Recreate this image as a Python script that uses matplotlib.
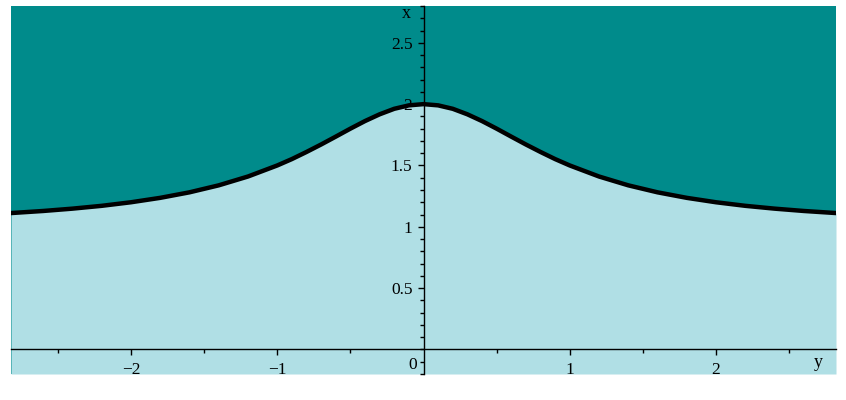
import matplotlib
matplotlib.use("Agg")
import matplotlib.pyplot as plt
from matplotlib.ticker import MultipleLocator, FixedLocator

# Data (curve x as function of y)
y_vals = [-2.82, -2.6, -2.4, -2.2, -2.0, -1.8, -1.6, -1.4, -1.2, -1.0, -0.9, -0.8, -0.7, -0.6, -0.5,
          -0.4, -0.3, -0.2, -0.1, 0.0, 0.1, 0.2, 0.3, 0.4, 0.5, 0.6, 0.7, 0.8, 0.9, 1.0,
          1.2, 1.4, 1.6, 1.8, 2.0, 2.2, 2.4, 2.6, 2.82]
x_vals = [1.112, 1.129, 1.148, 1.171, 1.2, 1.236, 1.281, 1.338, 1.41, 1.5, 1.552, 1.61, 1.671, 1.735, 1.8,
          1.862, 1.917, 1.962, 1.99, 2.0, 1.99, 1.962, 1.917, 1.862, 1.8, 1.735, 1.671, 1.61, 1.552, 1.5,
          1.41, 1.338, 1.281, 1.236, 1.2, 1.171, 1.148, 1.129, 1.112]
x_ticks = [-2, -1, 1, 2]
x_tick_labels = ["\u22122", "\u22121", "1", "2"]
v_ticks = [0.5, 1, 1.5, 2, 2.5]
v_tick_labels = ["0.5", "1", "1.5", "2", "2.5"]

dark = "#008b8b"
light = "#b0dfe5"

plt.rcParams['font.family'] = ['Liberation Serif', 'DejaVu Serif']

fig = plt.figure(figsize=(8.46, 4.0), dpi=100)
ax = fig.add_axes([11/846, 26/400, 825/846, 368/400])
ax.set_xlim(-2.82, 2.82)
ax.set_ylim(-0.2, 2.8)
ax.set_facecolor(dark)
ax.fill_between(y_vals, -0.2, x_vals, color=light, lw=0, zorder=1)
ax.plot(y_vals, x_vals, color="black", lw=3.2, zorder=3, solid_capstyle="round",
        solid_joinstyle="round")

for s in ["top", "right"]:
    ax.spines[s].set_visible(False)
ax.spines["left"].set_position(("data", 0))
ax.spines["bottom"].set_position(("data", 0))
for s in ["left", "bottom"]:
    ax.spines[s].set_linewidth(1.0)
    ax.spines[s].set_zorder(4)

ax.xaxis.set_major_locator(FixedLocator(x_ticks))
ax.set_xticklabels(x_tick_labels)
ax.xaxis.set_minor_locator(FixedLocator([-2.5, -1.5, -0.5, 0.5, 1.5, 2.5]))
ax.yaxis.set_major_locator(FixedLocator(v_ticks))
ax.set_yticklabels(v_tick_labels)
ax.yaxis.set_minor_locator(MultipleLocator(0.1))

ax.tick_params(axis="x", which="major", direction="out", length=4, width=1, labelsize=12.5, pad=5)
ax.tick_params(axis="x", which="minor", direction="out", length=3, width=1)
ax.tick_params(axis="y", which="major", direction="out", length=4, width=1, labelsize=12.5, pad=4)
ax.tick_params(axis="y", which="minor", direction="out", length=3, width=1)

ax.text(-0.075, -0.13, "0", fontsize=12.5, ha="center", va="center")
ax.text(-0.12, 2.74, "x", fontsize=13, ha="center", va="center")
ax.text(2.7, -0.11, "y", fontsize=13, ha="center", va="center")

fig.savefig("out.png", dpi=100)
